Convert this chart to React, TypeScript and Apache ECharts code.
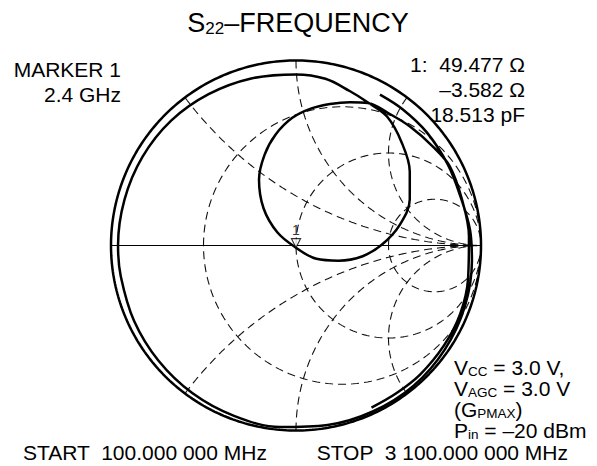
import React, { useEffect, useRef } from 'react';
import * as echarts from 'echarts';

// Smith chart graticule values (normalised)
const resistanceCircles = [1 / 3, 1, 3];
const reactanceArcs = [0.5, 1, 2, -0.5, -1, -2];

// S22 trace, reflection coefficient, 100 MHz -> 3100 MHz
const traceRe = [
  0.454, 0.576, 0.706, 0.821, 0.892, 0.941, 0.951, 0.912, 0.804, 0.636, 0.418, 0.171,
  -0.086, -0.335, -0.559, -0.743, -0.875, -0.947, -0.962, -0.927, -0.83, -0.675, -0.4725,
  -0.242, 0.0, 0.159, 0.29, 0.389,
  0.492, 0.57, 0.615, 0.615, 0.56, 0.465, 0.36, 0.23, 0.11, 0.0, -0.1, -0.175, -0.2,
  -0.17, -0.11, -0.02, 0.08, 0.184, 0.292, 0.389,
  0.5, 0.616, 0.74, 0.832, 0.897, 0.935, 0.93, 0.888, 0.8, 0.672, 0.54, 0.408,
];
const traceIm = [
  0.816, 0.737, 0.613, 0.437, 0.256, 0.082, -0.083, -0.332, -0.563, -0.758, -0.896, -0.97,
  -0.981, -0.921, -0.799, -0.623, -0.408, -0.167, 0.0, 0.248, 0.479, 0.675, 0.818,
  0.903, 0.925, 0.901, 0.835, 0.773,
  0.697, 0.56, 0.4, 0.25, 0.11, 0.005, -0.058, -0.082, -0.072, -0.012, 0.07, 0.2, 0.357,
  0.49, 0.6, 0.69, 0.74, 0.765, 0.775, 0.77,
  0.715, 0.643, 0.535, 0.427, 0.249, 0.05, -0.18, -0.368, -0.54, -0.696, -0.8, -0.876,
];

// Marker 1 (2.4 GHz) on the trace
const markerRe = 0.0;
const markerIm = -0.012;
const markerName = '1';

const titleParts = ['S', '22', '–FREQUENCY'];
const markerLines = ['MARKER 1', '2.4 GHz'];
const readoutLines = ['1:  49.477 Ω', '–3.582 Ω', '18.513 pF'];
const startText = 'START  100.000 000 MHz';
const stopText = 'STOP  3 100.000 000 MHz';

const FONT = '"Liberation Sans", Arial, Helvetica, sans-serif';

function arcPoints(cx: number, cy: number, rad: number, a0: number, a1: number, n: number) {
  const pts: number[][] = [];
  for (let i = 0; i <= n; i++) {
    const a = a0 + ((a1 - a0) * i) / n;
    pts.push([cx + rad * Math.cos(a), cy + rad * Math.sin(a)]);
  }
  return pts;
}

export default function App() {
  const ref = useRef<HTMLDivElement>(null);
  useEffect(() => {
    if (!ref.current) return;
    const chart = echarts.init(ref.current, undefined, { renderer: 'svg' });

    const dash = { type: [8, 5] as any, width: 1.1, color: '#111' };
    const series: any[] = [];

    resistanceCircles.forEach((r) => {
      series.push({
        type: 'line', silent: true, clip: false, showSymbol: false, symbol: 'none',
        lineStyle: dash, z: 1,
        data: arcPoints(r / (1 + r), 0, 1 / (1 + r), Math.PI, -Math.PI, 240),
      });
    });
    reactanceArcs.forEach((x) => {
      const ax = Math.abs(x);
      const px = (ax * ax - 1) / (ax * ax + 1);
      const py = (2 * ax) / (ax * ax + 1);
      let a0 = Math.atan2(py - 1 / ax, px - 1);
      if (a0 < 0) a0 += 2 * Math.PI;
      const pts = arcPoints(1, 1 / ax, 1 / ax, a0, 1.5 * Math.PI, 200).map((p) =>
        x < 0 ? [p[0], -p[1]] : p
      );
      series.push({
        type: 'line', silent: true, clip: false, showSymbol: false, symbol: 'none',
        lineStyle: dash, z: 1, data: pts,
      });
    });
    // real axis
    series.push({
      type: 'line', silent: true, clip: false, showSymbol: false, symbol: 'none',
      lineStyle: { width: 1, color: '#000' }, z: 2,
      data: [[-1, 0], [1, 0]],
    });
    // outer circle
    series.push({
      type: 'line', silent: true, clip: false, showSymbol: false, symbol: 'none',
      lineStyle: { width: 2.5, color: '#000' }, z: 3,
      data: arcPoints(0, 0, 1, 0, 2 * Math.PI, 360),
    });
    // trace
    series.push({
      type: 'line', silent: true, clip: false, showSymbol: false, symbol: 'none',
      smooth: 0.35,
      lineStyle: { width: 2.5, color: '#000' }, z: 4,
      data: traceRe.map((v, i) => [v, traceIm[i]]),
    });
    // marker
    series.push({
      type: 'scatter', silent: true, clip: false, z: 6,
      symbol: 'path://M0,0L10,0L5,10Z',
      symbolSize: [9, 9],
      symbolOffset: [0, -4.5],
      itemStyle: { color: '#fff', borderColor: '#000', borderWidth: 1.2 },
      label: {
        show: true, position: 'top', distance: 1, formatter: markerName,
        fontSize: 14, fontFamily: FONT, color: '#000',
      },
      data: [[markerRe, markerIm]],
    });

    const big = 21;
    const small = 13.5;
    const txt = (x: number, y: number, text: string, align: string, rich?: any, size = big) => ({
      type: 'text', x, y, silent: true,
      style: {
        text, align, verticalAlign: 'middle', fontSize: size, fontFamily: FONT, fill: '#000',
        rich,
      },
    });
    const subRich = {
      m: { fontSize: big, fontFamily: FONT, fill: '#000', lineHeight: big },
      s: { fontSize: small, fontFamily: FONT, fill: '#000', lineHeight: small, verticalAlign: 'bottom' },
    };

    const graphic: any[] = [
      txt(298, 23, `{t|${titleParts[0]}}{u|${titleParts[1]}}{t|${titleParts[2]}}`, 'center', {
        t: { fontSize: 27, fontFamily: FONT, fill: '#000', lineHeight: 27 },
        u: { fontSize: 17, fontFamily: FONT, fill: '#000', lineHeight: 17, verticalAlign: 'bottom' },
      }, 27),
      txt(121, 69, markerLines[0], 'right'),
      txt(121, 94, markerLines[1], 'right'),
      txt(525, 64.5, readoutLines[0], 'right'),
      txt(525, 89.5, readoutLines[1], 'right'),
      txt(525, 114.5, readoutLines[2], 'right'),
      txt(454, 367.5, '{m|V}{s|CC}{m| = 3.0 V,}', 'left', subRich),
      txt(454, 388.5, '{m|V}{s|AGC}{m| = 3.0 V}', 'left', subRich),
      txt(454, 409.5, '{m|(G}{s|PMAX}{m|)}', 'left', subRich),
      txt(454, 430.5, '{m|P}{s|in}{m| = –20 dBm}', 'left', subRich),
      txt(23, 452.5, startText, 'left'),
      txt(568, 452.5, stopText, 'right'),
    ];

    chart.setOption({
      animation: false,
      grid: { left: 111, top: 60.5, width: 370, height: 370 },
      xAxis: { type: 'value', min: -1, max: 1, show: false },
      yAxis: { type: 'value', min: -1, max: 1, show: false },
      series,
      graphic,
    });
    return () => chart.dispose();
  }, []);
  return (
    <div
      ref={ref}
      style={{ position: 'fixed', left: 0, top: 0, width: 597, height: 466, background: '#fff' }}
    />
  );
}
